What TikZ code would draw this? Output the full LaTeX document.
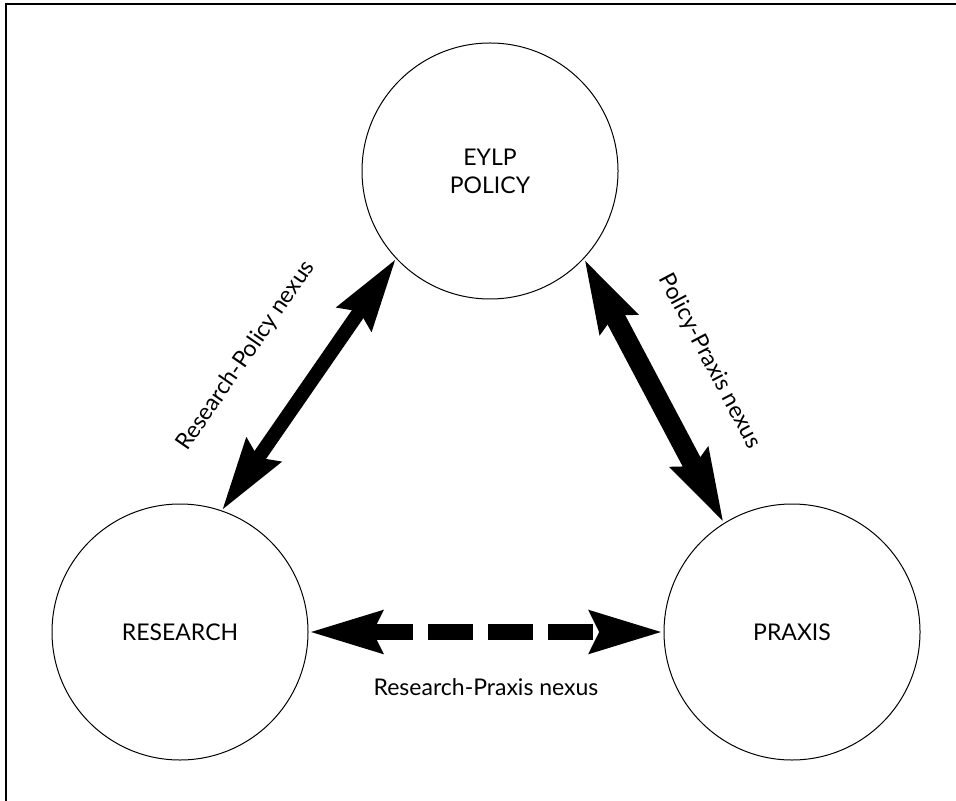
\documentclass[tikz,border=0pt]{standalone}
\usepackage{fontspec}
\setmainfont{Lato}
\usetikzlibrary{arrows.meta}

\begin{document}
\begin{tikzpicture}[x=0.5pt,y=-0.5pt,
	>={Stealth[length=36pt,width=20pt,inset=4pt]},
	realm/.style={circle,draw,line width=0.5pt,minimum size=128pt,inner sep=0pt,align=center,font=\fontsize{11.5}{14}\selectfont},
	nexus/.style={<->,line width=#1},
	tag/.style={font=\fontsize{11.5}{14}\selectfont}]
		\useasboundingbox (0,0) rectangle (956,801);
		\draw[line width=1pt] (956,4.5) -- (5.5,4.5) -- (5.5,801);
		\node[realm] (policy) at (490,171) {EYLP\\POLICY};
		\node[realm] (research) at (180,632) {RESEARCH};
		\node[realm] (praxis) at (792,632) {PRAXIS};
		\draw[nexus=7pt] (research.71) -- node[tag,sloped,pos=0.46,above=22pt] {Research-Policy nexus} (policy.223.5);
		\draw[nexus=10pt] (policy.-43) -- node[tag,sloped,above=18pt] {Policy-Praxis nexus} (praxis.122);
		\draw[nexus=8pt,dash pattern=on 22.5pt off 7.5pt] (research.east) -- node[tag,below=16pt] {Research-Praxis nexus} (praxis.west);
\end{tikzpicture}
\end{document}
